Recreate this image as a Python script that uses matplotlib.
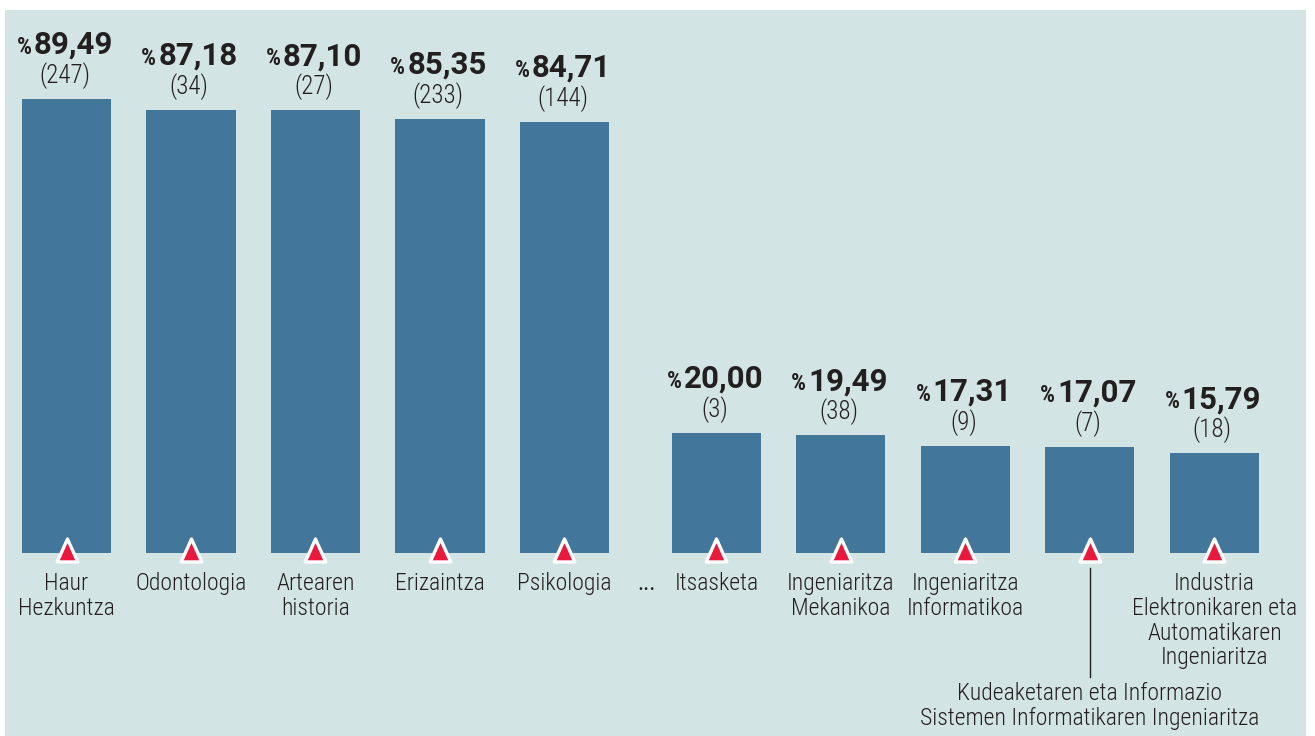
import numpy as np
import matplotlib
matplotlib.use("Agg")
import matplotlib.pyplot as plt
from matplotlib import font_manager
from matplotlib.path import Path

# pick a narrow sans for the labels, a normal one for the big numbers
installed = {f.name for f in font_manager.fontManager.ttflist}
narrow = next((f for f in ['Roboto Condensed', 'Liberation Sans Narrow', 'Roboto']
               if f in installed), 'DejaVu Sans')
wide = 'Roboto' if 'Roboto' in installed else 'DejaVu Sans'
plt.rcParams['font.family'] = [narrow, 'DejaVu Sans']

# data
categories = ["Haur\nHezkuntza", "Odontologia", "Artearen\nhistoria", "Erizaintza", "Psikologia",
              "Itsasketa", "Ingeniaritza\nMekanikoa", "Ingeniaritza\nInformatikoa",
              "Kudeaketaren eta Informazio\nSistemen Informatikaren Ingeniaritza",
              "Industria\nElektronikaren eta\nAutomatikaren\nIngeniaritza"]
values = [89.49, 87.18, 87.10, 85.35, 84.71, 20.00, 19.49, 17.31, 17.07, 15.79]
counts = [247, 34, 27, 233, 144, 3, 38, 9, 7, 18]
group = [0, 0, 0, 0, 0, 1, 1, 1, 1, 1]

BG = '#d3e4e4'
BAR = '#42779b'
RED = '#e8193c'
INK = '#231f20'
BASE = -5      # bars start a bit below zero, as in the original
GAP = 0.22     # extra space between the two groups
PX = 4.805     # pixels per unit on the y axis

x = np.arange(len(values)) + GAP*np.array(group)

fig = plt.figure(figsize=(13.15, 7.36), dpi=100)
ax = fig.add_axes([5/1315, 0, 1301/1315, 726/736])
ax.set_facecolor(BG)
ax.set_xlim(-0.494, 9.956)
ax.set_ylim(-43.09, 108.0)
ax.set_xticks([])
ax.set_yticks([])
for s in ax.spines.values():
    s.set_visible(False)

ax.bar(x, np.array(values) - BASE, bottom=BASE, width=0.715, color=BAR)

tri = Path([(-0.9, -1), (0.9, -1), (0, 1), (-0.9, -1)],
           [Path.MOVETO, Path.LINETO, Path.LINETO, Path.CLOSEPOLY])
ax.plot(x, [BASE + 0.6]*len(x), ls='none', marker=tri, markersize=16.5,
        markerfacecolor=RED, markeredgecolor='white', markeredgewidth=2.4)

renderer = fig.canvas.get_renderer()
for xi, v, n in zip(x, values, counts):
    num = ax.annotate(f"{v:.2f}".replace('.', ','), xy=(xi, v), xytext=(7, 45),
                      textcoords='offset pixels', ha='center', va='baseline',
                      fontsize=22.5, fontweight='bold', color=INK, family=[wide, 'DejaVu Sans'])
    w = num.get_window_extent(renderer=renderer).width
    ax.annotate('%', xy=(xi, v), xytext=(7 - w/2 - 2, 45), textcoords='offset pixels',
                ha='right', va='baseline', fontsize=17, fontweight='bold', color=INK)
    ax.annotate(f"({n})", xy=(xi, v), xytext=(-2, 16), textcoords='offset pixels',
                ha='center', va='baseline', fontsize=18, fontweight='light', color=INK)

for i, (xi, lab) in enumerate(zip(x, categories)):
    if i == 8:
        # long label goes below, with a leader line
        ax.plot([xi, xi], [BASE - 15/PX, BASE - 124/PX], color=INK, lw=1)
        ax.annotate(lab, xy=(xi, BASE), xytext=(0, -129), textcoords='offset pixels',
                    ha='center', va='top', fontsize=17, fontweight='light', color=INK,
                    linespacing=1.1)
    else:
        ax.annotate(lab, xy=(xi, BASE), xytext=(0, -19), textcoords='offset pixels',
                    ha='center', va='top', fontsize=17, fontweight='light', color=INK,
                    linespacing=1.1)

ax.annotate('...', xy=(4.66, BASE), xytext=(0, -19), textcoords='offset pixels',
            ha='center', va='top', fontsize=17, color=INK)

fig.savefig('out.png', dpi=100, facecolor='white')
